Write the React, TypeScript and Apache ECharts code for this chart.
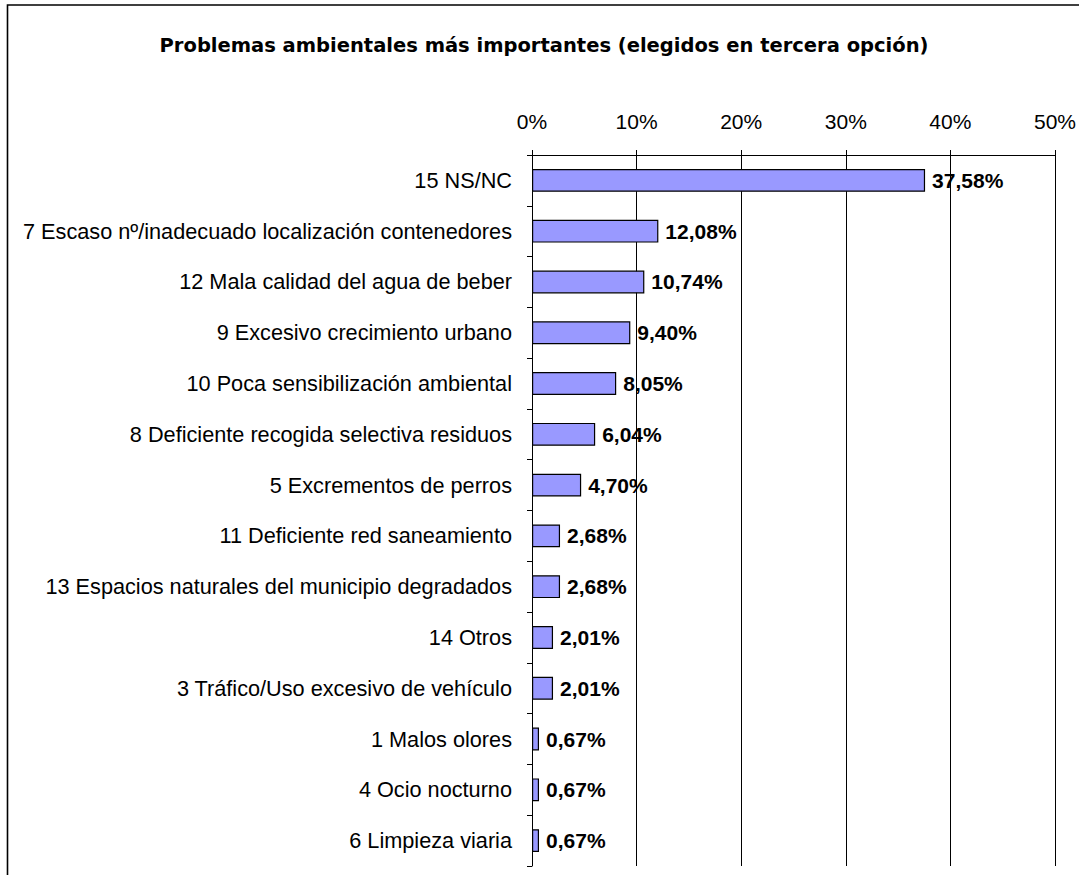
import React, { useEffect, useRef } from "react";
import * as echarts from "echarts";

const titleText = "Problemas ambientales más importantes (elegidos en tercera opción)";

const categories = [
  "15 NS/NC",
  "7 Escaso nº/inadecuado localización contenedores",
  "12 Mala calidad del agua de beber",
  "9 Excesivo crecimiento urbano",
  "10 Poca sensibilización ambiental",
  "8 Deficiente recogida selectiva residuos",
  "5 Excrementos de perros",
  "11 Deficiente red saneamiento",
  "13 Espacios naturales del municipio degradados",
  "14 Otros",
  "3 Tráfico/Uso excesivo de vehículo",
  "1 Malos olores",
  "4 Ocio nocturno",
  "6 Limpieza viaria",
];

const values = [37.58, 12.08, 10.74, 9.4, 8.05, 6.04, 4.7, 2.68, 2.68, 2.01, 2.01, 0.67, 0.67, 0.67];

const axisMin = 0;
const axisMax = 50;
const axisInterval = 10;

const FONT = "'Liberation Sans', Arial, sans-serif";
const TITLE_FONT = "'DejaVu Sans', 'Liberation Sans', Arial, sans-serif";

export default function App() {
  const ref = useRef<HTMLDivElement>(null);
  useEffect(() => {
    if (!ref.current) return;
    const chart = echarts.init(ref.current, undefined, { renderer: "svg" });
    chart.setOption({
      animation: false,
      backgroundColor: "#ffffff",
      title: {
        text: titleText,
        left: 539,
        top: 30,
        textAlign: "center",
        textStyle: {
          fontFamily: TITLE_FONT,
          fontSize: 19.5,
          fontWeight: "bold",
          color: "#000",
        },
      },
      graphic: [
        {
          type: "polyline",
          shape: { points: [[7.5, 900], [7.5, 5], [1100, 5]] },
          style: { stroke: "#000", lineWidth: 1.6, fill: "none" },
          silent: true,
        },
      ],
      grid: { left: 532, right: 23, top: 155, bottom: 9, containLabel: false },
      xAxis: {
        type: "value",
        position: "top",
        min: axisMin,
        max: axisMax,
        interval: axisInterval,
        axisLine: { show: true, lineStyle: { color: "#000", width: 1 } },
        axisTick: { show: true, length: 5, lineStyle: { color: "#000" } },
        axisLabel: {
          formatter: "{value}%",
          fontFamily: FONT,
          fontSize: 21,
          color: "#000",
          margin: 23,
        },
        splitLine: { show: true, lineStyle: { color: "#000", width: 1 } },
      },
      yAxis: {
        type: "category",
        data: categories,
        inverse: true,
        axisLine: { show: true, lineStyle: { color: "#000", width: 1 } },
        axisTick: { show: true, length: 5, alignWithLabel: false, lineStyle: { color: "#000" } },
        axisLabel: {
          fontFamily: FONT,
          fontSize: 21.7,
          color: "#000",
          margin: 20,
        },
        splitLine: { show: false },
      },
      series: [
        {
          type: "bar",
          data: values,
          barWidth: "45%",
          itemStyle: { color: "#9999FF", borderColor: "#000", borderWidth: 1.2 },
          label: {
            show: true,
            position: "right",
            distance: 7,
            fontFamily: FONT,
            fontSize: 21,
            fontWeight: "bold",
            color: "#000",
            formatter: (p: any) => p.value.toFixed(2).replace(".", ",") + "%",
          },
        },
      ],
    });
    return () => chart.dispose();
  }, []);
  return (
    <div
      ref={ref}
      style={{ position: "absolute", left: 0, top: 0, width: 1079, height: 875 }}
    />
  );
}
